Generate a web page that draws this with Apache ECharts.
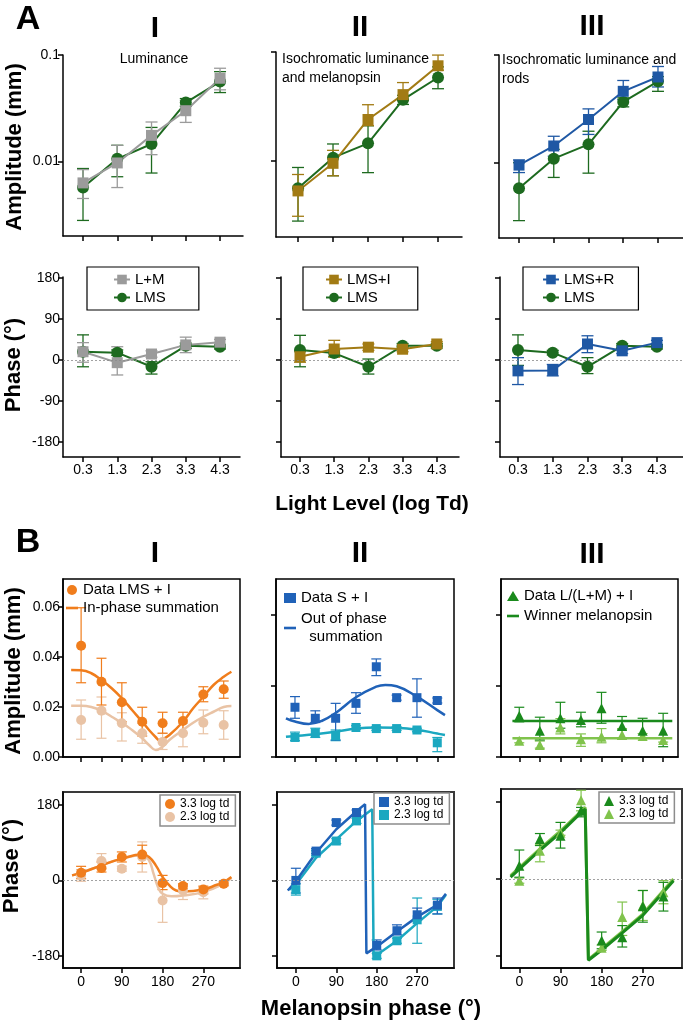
<!DOCTYPE html>
<html><head><meta charset="utf-8">
<script src="https://cdn.jsdelivr.net/npm/echarts@6/dist/echarts.min.js"></script>
<style>html,body{margin:0;padding:0;background:#fff}#c{width:683px;height:1025px}</style>
</head><body><div id="c"></div>
<script>
const FONT = '"Liberation Sans", Arial, Helvetica, sans-serif';

// ---------- Panel A ----------
const lightLevels = [0.3, 1.3, 2.3, 3.3, 4.3];
const ampTicksA = [0.01, 0.1];
const phaseTicksA = [-180, -90, 0, 90, 180];

const ampLM     = [0.0063, 0.0097, 0.0176, 0.030, 0.0605];
const ampLM_lo  = [0.0045, 0.0057, 0.0116, 0.0233, 0.0471];
const ampLM_hi  = [0.0084, 0.0142, 0.0235, 0.0374, 0.0751];
const ampLMS1   = [0.0057, 0.0106, 0.0146, 0.0358, 0.0563];
const ampLMS1_lo= [0.0028, 0.0072, 0.0078, 0.033, 0.0444];
const ampLMS1_hi= [0.0086, 0.0142, 0.0209, 0.039, 0.0698];

const ampLMSI   = [0.0053, 0.0095, 0.024, 0.0406, 0.0747];
const ampLMSI_lo= [0.0031, 0.0073, 0.0211, 0.0359, 0.0681];
const ampLMSI_hi= [0.0075, 0.0125, 0.0328, 0.0524, 0.0937];
const ampLMS2   = [0.0056, 0.0107, 0.0145, 0.0365, 0.0583];
const ampLMS2_lo= [0.0028, 0.0073, 0.0078, 0.033, 0.046];
const ampLMS2_hi= [0.0087, 0.0143, 0.021, 0.040, 0.073];

const ampLMSR   = [0.0095, 0.0143, 0.0252, 0.046, 0.0625];
const ampLMSR_lo= [0.0081, 0.0115, 0.0183, 0.0385, 0.0505];
const ampLMSR_hi= [0.0106, 0.0176, 0.0316, 0.058, 0.0782];
const ampLMS3   = [0.0058, 0.0109, 0.0148, 0.0367, 0.057];
const ampLMS3_lo= [0.0029, 0.0073, 0.008, 0.033, 0.046];
const ampLMS3_hi= [0.0100, 0.0133, 0.0196, 0.040, 0.063];

const phLM      = [18, -6, 13, 33, 39];
const phLM_lo   = [-5, -33, 6, 16, 33];
const phLM_hi   = [38, 29, 20, 50, 45];
const phLMS1    = [18, 16, -15, 31, 29];
const phLMS1_lo = [-15, 10, -31, 25, 24];
const phLMS1_hi = [55, 22, -4, 37, 34];

const phLMSI    = [7, 24, 28, 23.5, 35];
const phLMSI_lo = [-5, 6, 21, 18, 30];
const phLMSI_hi = [20, 43, 35, 29, 40];
const phLMS2    = [22, 15, -15, 31, 31];
const phLMS2_lo = [-15, 8, -31, 26, 26];
const phLMS2_hi = [54, 22, 2, 36, 36];

const phLMSR    = [-24, -23, 35, 20, 38];
const phLMSR_lo = [-54, -35, 16, 14, 33];
const phLMSR_hi = [5, -10, 53, 26, 43];
const phLMS3    = [22, 16, -15, 31, 29];
const phLMS3_lo = [-12, 11, -30, 26, 24];
const phLMS3_hi = [55, 21, 5, 36, 34];

// ---------- Panel B ----------
const melPhase = [0, 45, 90, 135, 180, 225, 270, 315];
const melTicksAmp = [0, 45, 90, 135, 180, 225, 270, 315];
const melTicksPhase = [0, 90, 180, 270];
const ampTicksBI = [0, 0.02, 0.04, 0.06];
const ampTicksBII = [0, 0.02, 0.04];
const phaseTicksB = [-180, 0, 180];

const bAmpI33    = [0.0445, 0.0301, 0.0219, 0.0141, 0.0135, 0.0144, 0.025, 0.0271];
const bAmpI33_lo = [0.0297, 0.0208, 0.0141, 0.0084, 0.0095, 0.0095, 0.0221, 0.0235];
const bAmpI33_hi = [0.0597, 0.0395, 0.0297, 0.0199, 0.0179, 0.0179, 0.0281, 0.0304];
const bAmpI23    = [0.0148, 0.0185, 0.0135, 0.0095, 0.006, 0.0095, 0.0137, 0.0128];
const bAmpI23_lo = [0.0071, 0.0075, 0.0064, 0.0055, 0.003, 0.0041, 0.0093, 0.0071];
const bAmpI23_hi = [0.0228, 0.024, 0.0177, 0.0135, 0.0095, 0.0135, 0.0188, 0.0185];
const fitIx   = [-22, 0, 22.5, 45, 67.5, 90, 112.5, 135, 150, 165, 172, 180, 195, 225, 247.5, 270, 292.5, 315, 332];
const fitI33  = [0.0348, 0.0347, 0.0335, 0.0308, 0.0275, 0.0235, 0.0188, 0.0141, 0.0108, 0.0079, 0.0068, 0.0071, 0.0088, 0.0141, 0.0195, 0.0241, 0.0288, 0.0321, 0.0341];
const fitI23x = [-22, 0, 22.5, 45, 67.5, 90, 112.5, 135, 150, 165, 180, 195, 225, 247.5, 270, 292.5, 315, 332];
const fitI23  = [0.0205, 0.0205, 0.020, 0.0185, 0.0161, 0.0137, 0.0108, 0.0075, 0.0048, 0.0028, 0.0041, 0.0068, 0.0108, 0.0137, 0.0161, 0.0181, 0.020, 0.0204];

const bAmpII33    = [0.014, 0.0109, 0.0109, 0.0151, 0.0254, 0.0167, 0.0167, 0.0159];
const bAmpII33_lo = [0.0109, 0.0097, 0.0048, 0.0123, 0.0229, 0.0160, 0.0112, 0.0152];
const bAmpII33_hi = [0.017, 0.013, 0.0151, 0.0181, 0.0276, 0.0174, 0.022, 0.0166];
const bAmpII23    = [0.0055, 0.0068, 0.006, 0.0083, 0.008, 0.008, 0.0076, 0.004];
const bAmpII23_lo = [0.0046, 0.0055, 0.0046, 0.0078, 0.0075, 0.0075, 0.0071, 0.0015];
const bAmpII23_hi = [0.007, 0.0081, 0.0076, 0.0088, 0.0085, 0.0085, 0.0081, 0.0055];
const fitII33x = [-20, 0, 30, 60, 90, 135, 180, 200, 225, 270, 315, 332];
const fitII33  = [0.0109, 0.0100, 0.0093, 0.0102, 0.0124, 0.0168, 0.0198, 0.0203, 0.0199, 0.017, 0.0132, 0.0118];
const fitII23x = [-20, 0, 45, 90, 135, 180, 225, 270, 315, 332];
const fitII23  = [0.0057, 0.0059, 0.0064, 0.0071, 0.0080, 0.0083, 0.0082, 0.0077, 0.0066, 0.0062];

const bAmpIII33    = [0.0116, 0.0074, 0.0109, 0.0104, 0.0137, 0.0087, 0.0074, 0.0074];
const bAmpIII33_lo = [0.0099, 0.0048, 0.0081, 0.0085, 0.0095, 0.0076, 0.0053, 0.0029];
const bAmpIII33_hi = [0.014, 0.0112, 0.0154, 0.0126, 0.0182, 0.0114, 0.0109, 0.0123];
const bAmpIII23    = [0.0046, 0.0034, 0.0083, 0.005, 0.0057, 0.0062, 0.0059, 0.0048];
const bAmpIII23_lo = [0.0040, 0.0025, 0.0065, 0.0030, 0.0040, 0.0050, 0.0052, 0.0042];
const bAmpIII23_hi = [0.0052, 0.0045, 0.0108, 0.0065, 0.0080, 0.0080, 0.0066, 0.0054];
const fitIIIx   = [-15, 335];
const fitIII33  = [0.0101, 0.0101];
const fitIII23  = [0.0053, 0.0053];

const bPhI33    = [18.4, 29.6, 56, 61.6, -6.4, -13.6, -21.6, -8];
const bPhI33_lo = [4, 20, 44, 40, -22, -20, -32, -13];
const bPhI33_hi = [33.6, 44, 68, 84, 12, -8, -13.6, -3];
const bPhI23    = [12, 46.4, 28, 56, -48, -24, -28, -8];
const bPhI23_lo = [-2, 28, 22, 20, -100, -45.6, -44, -12];
const bPhI23_hi = [26, 64, 34, 92, -8, -10, -16, -4];
const fitPhI33x = [-20, 0, 45, 90, 135, 150, 165, 180, 195, 210, 225, 270, 300, 315, 332];
const fitPhI33  = [12, 18, 36, 52, 61.6, 56, 36, 8, -12, -24, -26.4, -21.6, -10.4, -4, 8];
const fitPhI23x = [-20, 0, 45, 90, 135, 150, 160, 170, 180, 200, 225, 270, 315, 332];
const fitPhI23  = [12, 18, 36, 52, 60, 48, 16, -16, -32, -38, -36, -28, -8, 6];

const bPhII33    = [0, 70, 138, 162, -155, -120, -82, -59];
const bPhII33_lo = [-30, 64, 132, 156, -166, -130, -94, -80];
const bPhII33_hi = [29, 76, 144, 168, -142, -106, -66, -42];
const bPhII23    = [-22, 65, 94, 142, -180, -144, -94, -62];
const bPhII23_lo = [-35, 59, 88, 136, -186, -150, -150, -80];
const bPhII23_hi = [-8, 71, 100, 148, -174, -138, -42, -45];
const fitPhII33x = [-18, 0, 45, 90, 135, 154, 157, 180, 225, 270, 315, 334];
const fitPhII33  = [-24, -2, 66, 122, 165, 182, -174, -158, -122, -87, -58, -32];
const fitPhII23x = [-15, 0, 45, 90, 135, 170, 173, 180, 225, 270, 315, 334];
const fitPhII23  = [-22, -10, 54, 98, 142, 170, -178, -178, -144, -102, -62, -34];

const bPhIII33    = [31, 93, 101, 159, -143.6, -136, -64, -41];
const bPhIII33_lo = [4, 78, 72, 145, -163, -159, -101, -75];
const bPhIII33_hi = [67.5, 106, 132, 167, -124, -109, -27, -8];
const bPhIII23    = [-4, 66, 108, 184, -160.6, -89, -62, -31];
const bPhIII23_lo = [-10, 40, 102, 159, -167, -132, -97, -58];
const bPhIII23_hi = [2, 81, 114, 207, -154, -54, -27, -4];
const fitPhIIIx   = [-19, 45, 90, 135, 144, 151, 180, 225, 270, 337];
const fitPhIII33  = [4, 67, 108, 155, 163, -190, -166, -126, -85, -4];
const fitPhIII23  = [8, 70, 112, 158, 167, -188, -163, -123, -82, 0];

// ---------- colours ----------
const C = {
  gray: '#9b9b9b', green: '#1d6a1f', gold: '#a27b14', blueR: '#1f58a4',
  orange: '#f07d1c', tan: '#e9c3a5', blueS: '#2062b8', cyan: '#1ba8c0',
  g33: '#1a8a1c', g23: '#80c34c'
};

// ---------- layout ----------
const gridDefs = [
  {left:63,  top:55,  width:180, height:181},
  {left:276, top:52,  width:186, height:185},
  {left:499, top:55,  width:184, height:183},
  {left:63,  top:277, width:177, height:180},
  {left:281, top:277, width:178, height:180},
  {left:500, top:277, width:183, height:180},
  {left:63,  top:579, width:177, height:178, box:'#000', bw:1.5},
  {left:276, top:579, width:178, height:178, box:'#000', bw:1.5},
  {left:501, top:579, width:177, height:178, box:'#000', bw:1.5},
  {left:63,  top:792, width:177, height:176, box:'#3a3a3a', bw:2},
  {left:277, top:792, width:177, height:176, box:'#3a3a3a', bw:2},
  {left:501, top:789, width:181, height:179, box:'#3a3a3a', bw:2}
];
const grids = gridDefs.map(g => ({
  left:g.left, top:g.top, width:g.width, height:g.height,
  containLabel:false, outerBoundsMode:'none',
  show: !!g.box, borderColor: g.box || 'transparent', borderWidth: g.bw || 0,
  backgroundColor: 'transparent'
}));

function axisBase(gi, type, min, max, ticks, labels, fmt, margin) {
  const a = {
    type, gridIndex: gi, min, max,
    axisLine: {show:true, onZero:false, lineStyle:{color:'#000', width:1.5}},
    axisTick: {show:true, length:5, customValues: ticks, lineStyle:{color:'#000', width:1.5}},
    axisLabel: {show: !!labels, customValues: labels || ticks, color:'#000', fontSize:14,
                fontFamily: FONT, margin: margin, formatter: fmt || (v => String(v))},
    splitLine: {show:false}, minorTick:{show:false}, minorSplitLine:{show:false}
  };
  if (type === 'log') a.logBase = 10;
  return a;
}
const fmtLog = v => (Math.abs(v - 0.1) < 1e-6 ? '0.1' : '0.01');
const fmt2 = v => Number(v).toFixed(2);

const xAxes = [
  axisBase(0, 'value', -0.284, 4.97, lightLevels, null),
  axisBase(1, 'value', -0.329, 4.985, lightLevels, null),
  axisBase(2, 'value', -0.276, 5.02, lightLevels, null),
  axisBase(3, 'value', -0.284, 4.884, lightLevels, lightLevels, null, 6),
  axisBase(4, 'value', -0.256, 4.95, lightLevels, lightLevels, null, 6),
  axisBase(5, 'value', -0.218, 5.05, lightLevels, lightLevels, null, 6),
  axisBase(6, 'value', -40, 351, melTicksAmp, null),
  axisBase(7, 'value', -42, 352, melTicksAmp, null),
  axisBase(8, 'value', -40, 347.5, melTicksAmp, null),
  axisBase(9, 'value', -40, 351, melTicksPhase, melTicksPhase, null, 7),
  axisBase(10,'value', -42, 352, melTicksPhase, melTicksPhase, null, 7),
  axisBase(11,'value', -40, 355.6, melTicksPhase, melTicksPhase, null, 7)
];
const yAxes = [
  axisBase(0, 'log', 0.002, 0.1, ampTicksA, ampTicksA, fmtLog, 3),
  axisBase(1, 'log', 0.002, 0.1, ampTicksA, null),
  axisBase(2, 'log', 0.002, 0.1, ampTicksA, null),
  axisBase(3, 'value', -213, 182, phaseTicksA, phaseTicksA, null, 3),
  axisBase(4, 'value', -213, 182, phaseTicksA, null),
  axisBase(5, 'value', -213, 182, phaseTicksA, null),
  axisBase(6, 'value', 0, 0.0712, ampTicksBI, ampTicksBI, fmt2, 3),
  axisBase(7, 'value', 0, 0.0501, ampTicksBII, null),
  axisBase(8, 'value', 0, 0.0501, ampTicksBII, null),
  axisBase(9, 'value', -209, 211, phaseTicksB, phaseTicksB, null, 3),
  axisBase(10,'value', -209, 211, phaseTicksB, null),
  axisBase(11,'value', -208, 210, phaseTicksB, null)
];

// ---------- series helpers ----------
function pairs(xs, ys) { return xs.map((x, i) => [x, ys[i]]); }
function errSer(gi, xs, lo, hi, color, cap, lw) {
  return {
    type:'custom', xAxisIndex:gi, yAxisIndex:gi, silent:true, clip:false, z:2,
    data: xs.map((x, i) => [x, lo[i], hi[i]]),
    encode: {x:0, y:[1, 2]},
    renderItem: (params, api) => {
      const x = api.value(0);
      const p1 = api.coord([x, api.value(1)]);
      const p2 = api.coord([x, api.value(2)]);
      const st = {stroke: color, lineWidth: lw, fill: null};
      return {type:'group', children:[
        {type:'line', shape:{x1:p1[0], y1:p1[1], x2:p2[0], y2:p2[1]}, style:st},
        {type:'line', shape:{x1:p1[0]-cap, y1:p1[1], x2:p1[0]+cap, y2:p1[1]}, style:st},
        {type:'line', shape:{x1:p2[0]-cap, y1:p2[1], x2:p2[0]+cap, y2:p2[1]}, style:st}
      ]};
    }
  };
}
function lineSer(gi, name, xs, ys, color, symbol, size) {
  return {
    type:'line', name, xAxisIndex:gi, yAxisIndex:gi, data: pairs(xs, ys),
    symbol, symbolSize:size, showSymbol:true, z:3,
    lineStyle:{color, width:2}, itemStyle:{color, borderWidth:0}, emphasis:{disabled:true}
  };
}
function scatSer(gi, name, xs, ys, color, symbol, size) {
  return {
    type:'scatter', name, xAxisIndex:gi, yAxisIndex:gi, data: pairs(xs, ys),
    symbol, symbolSize:size, z:4, itemStyle:{color, opacity:1}, emphasis:{disabled:true}
  };
}
function fitSer(gi, name, xs, ys, color, smooth, width) {
  return {
    type:'line', name, xAxisIndex:gi, yAxisIndex:gi, data: pairs(xs, ys),
    symbol:'none', showSymbol:false, smooth: smooth ? 0.45 : false,
    z:3, lineStyle:{color, width: width || 2.5}, itemStyle:{color}, emphasis:{disabled:true}
  };
}
function zeroLine(gi) {
  return {
    type:'line', xAxisIndex:gi, yAxisIndex:gi, data:[], silent:true, z:1,
    markLine:{silent:true, symbol:'none', label:{show:false},
      lineStyle:{color:'#8a8a8a', width:0.8, type:[2, 2]}, data:[{yAxis:0}]}
  };
}

const L = lightLevels, M = melPhase;
const series = [
  // A-I amplitude
  errSer(0, L, ampLMS1_lo, ampLMS1_hi, C.green, 6, 1.3),
  errSer(0, L, ampLM_lo, ampLM_hi, C.gray, 6, 1.3),
  lineSer(0, 'LMS amp1', L, ampLMS1, C.green, 'circle', 12),
  lineSer(0, 'L+M amp', L, ampLM, C.gray, 'rect', 11),
  // A-II amplitude
  errSer(1, L, ampLMS2_lo, ampLMS2_hi, C.green, 6, 1.3),
  errSer(1, L, ampLMSI_lo, ampLMSI_hi, C.gold, 6, 1.3),
  lineSer(1, 'LMS amp2', L, ampLMS2, C.green, 'circle', 12),
  lineSer(1, 'LMS+I amp', L, ampLMSI, C.gold, 'rect', 11),
  // A-III amplitude
  errSer(2, L, ampLMS3_lo, ampLMS3_hi, C.green, 6, 1.3),
  errSer(2, L, ampLMSR_lo, ampLMSR_hi, C.blueR, 6, 1.3),
  lineSer(2, 'LMS amp3', L, ampLMS3, C.green, 'circle', 12),
  lineSer(2, 'LMS+R amp', L, ampLMSR, C.blueR, 'rect', 11),
  // A phases
  zeroLine(3), zeroLine(4), zeroLine(5),
  errSer(3, L, phLMS1_lo, phLMS1_hi, C.green, 6, 1.3),
  errSer(3, L, phLM_lo, phLM_hi, C.gray, 6, 1.3),
  lineSer(3, 'LMS#1', L, phLMS1, C.green, 'circle', 12),
  lineSer(3, 'L+M', L, phLM, C.gray, 'rect', 11),
  errSer(4, L, phLMS2_lo, phLMS2_hi, C.green, 6, 1.3),
  errSer(4, L, phLMSI_lo, phLMSI_hi, C.gold, 6, 1.3),
  lineSer(4, 'LMS#2', L, phLMS2, C.green, 'circle', 12),
  lineSer(4, 'LMS+I', L, phLMSI, C.gold, 'rect', 11),
  errSer(5, L, phLMS3_lo, phLMS3_hi, C.green, 6, 1.3),
  errSer(5, L, phLMSR_lo, phLMSR_hi, C.blueR, 6, 1.3),
  lineSer(5, 'LMS#3', L, phLMS3, C.green, 'circle', 12),
  lineSer(5, 'LMS+R', L, phLMSR, C.blueR, 'rect', 11),

  // B-I amplitude
  errSer(6, M, bAmpI23_lo, bAmpI23_hi, C.tan, 5, 1.2),
  fitSer(6, 'fit I 2.3', fitI23x, fitI23, C.tan, true),
  scatSer(6, 'Data LMS + I 2.3', M, bAmpI23, C.tan, 'circle', 10),
  errSer(6, M, bAmpI33_lo, bAmpI33_hi, C.orange, 5, 1.2),
  fitSer(6, 'In-phase summation', fitIx, fitI33, C.orange, true),
  scatSer(6, 'Data LMS + I', M, bAmpI33, C.orange, 'circle', 10),
  // B-II amplitude
  errSer(7, M, bAmpII23_lo, bAmpII23_hi, C.cyan, 5, 1.2),
  fitSer(7, 'fit II 2.3', fitII23x, fitII23, C.cyan, true),
  scatSer(7, 'Data S + I 2.3', M, bAmpII23, C.cyan, 'rect', 9),
  errSer(7, M, bAmpII33_lo, bAmpII33_hi, C.blueS, 5, 1.2),
  fitSer(7, 'Out of phase\n  summation', fitII33x, fitII33, C.blueS, true),
  scatSer(7, 'Data S + I', M, bAmpII33, C.blueS, 'rect', 9),
  // B-III amplitude
  errSer(8, M, bAmpIII23_lo, bAmpIII23_hi, C.g23, 5, 1.2),
  fitSer(8, 'fit III 2.3', fitIIIx, fitIII23, C.g23, false),
  scatSer(8, 'Data L/(L+M) + I 2.3', M, bAmpIII23, C.g23, 'triangle', 10),
  errSer(8, M, bAmpIII33_lo, bAmpIII33_hi, C.g33, 5, 1.2),
  fitSer(8, 'Winner melanopsin', fitIIIx, fitIII33, C.g33, false),
  scatSer(8, 'Data L/(L+M) + I', M, bAmpIII33, C.g33, 'triangle', 10),

  // B phases
  zeroLine(9), zeroLine(10), zeroLine(11),
  errSer(9, M, bPhI23_lo, bPhI23_hi, C.tan, 5, 1.2),
  fitSer(9, 'phfit I 2.3', fitPhI23x, fitPhI23, C.tan, true),
  scatSer(9, '2.3 log td#I', M, bPhI23, C.tan, 'circle', 10),
  errSer(9, M, bPhI33_lo, bPhI33_hi, C.orange, 5, 1.2),
  fitSer(9, 'phfit I 3.3', fitPhI33x, fitPhI33, C.orange, true),
  scatSer(9, '3.3 log td#I', M, bPhI33, C.orange, 'circle', 10),

  errSer(10, M, bPhII23_lo, bPhII23_hi, C.cyan, 5, 1.2),
  fitSer(10, 'phfit II 2.3', fitPhII23x, fitPhII23, C.cyan, false),
  scatSer(10, '2.3 log td#II', M, bPhII23, C.cyan, 'rect', 9),
  errSer(10, M, bPhII33_lo, bPhII33_hi, C.blueS, 5, 1.2),
  fitSer(10, 'phfit II 3.3', fitPhII33x, fitPhII33, C.blueS, false),
  scatSer(10, '3.3 log td#II', M, bPhII33, C.blueS, 'rect', 9),

  errSer(11, M, bPhIII23_lo, bPhIII23_hi, C.g23, 5, 1.2),
  fitSer(11, 'phfit III 2.3', fitPhIIIx, fitPhIII23, C.g23, false, 3),
  scatSer(11, '2.3 log td#III', M, bPhIII23, C.g23, 'triangle', 10),
  errSer(11, M, bPhIII33_lo, bPhIII33_hi, C.g33, 5, 1.2),
  fitSer(11, 'phfit III 3.3', fitPhIIIx, fitPhIII33, C.g33, false, 3),
  scatSer(11, '3.3 log td#III', M, bPhIII33, C.g33, 'triangle', 10)
];

// ---------- legends ----------
const strip = n => n.split('#')[0];
const LINE_ICON = 'path://M0,0H12V2.6H0Z';
function legA(left, names, padding) {
  return {
    left, top:267, orient:'vertical', data:names, formatter:strip, selectedMode:false,
    itemWidth:16, itemHeight:12, itemGap:3, padding,
    borderColor:'#000', borderWidth:1.2, backgroundColor:'#fff',
    textStyle:{fontSize:15, color:'#000', fontFamily:FONT}
  };
}
function legBamp(left, top, names, gap) {
  return {
    left, top, orient:'vertical', data:names, selectedMode:false,
    itemWidth:12, itemHeight:10, itemGap:gap, padding:0,
    textStyle:{fontSize:15, color:'#000', fontFamily:FONT, lineHeight:18}
  };
}
function legBph(left, top, names) {
  return {
    left, top, orient:'vertical', data:names, formatter:strip, selectedMode:false,
    itemWidth:10, itemHeight:10, itemGap:1, padding:[3, 6, 3, 5],
    borderColor:'#8c8c8c', borderWidth:1.5, backgroundColor:'#fff',
    textStyle:{fontSize:12, color:'#000', fontFamily:FONT}
  };
}
const legends = [
  legA(87, ['L+M', 'LMS#1'], [5, 33, 5, 26]),
  legA(303, ['LMS+I', 'LMS#2'], [5, 27, 5, 22]),
  legA(523, ['LMS+R', 'LMS#3'], [5, 24, 5, 19]),
  legBamp(66, 581, [{name:'Data LMS + I', icon:'circle'}, {name:'In-phase summation', icon:LINE_ICON}], 0),
  legBamp(284, 589, [{name:'Data S + I', icon:'rect'}, {name:'Out of phase\n  summation', icon:LINE_ICON}], 3),
  legBamp(507, 587, [{name:'Data L/(L+M) + I', icon:'triangle'}, {name:'Winner melanopsin', icon:LINE_ICON}], 2),
  legBph(160, 795, ['3.3 log td#I', '2.3 log td#I']),
  legBph(374, 793, ['3.3 log td#II', '2.3 log td#II']),
  legBph(599, 792, ['3.3 log td#III', '2.3 log td#III'])
];

// ---------- texts ----------
function txt(text, x, y, size, bold, opts) {
  opts = opts || {};
  return {
    type:'text', x, y, rotation: opts.rot || 0, silent:true, z:10,
    style:{text, fill:'#000', font:(bold ? 'bold ' : '') + size + 'px ' + FONT,
      textAlign: opts.align || 'center', textVerticalAlign: opts.valign || 'middle',
      lineHeight: opts.lh}
  };
}
const texts = [
  txt('A', 28, 20, 34, true),
  txt('I', 155, 29, 30, true), txt('II', 360, 28, 30, true), txt('III', 592, 27, 30, true),
  txt('Luminance', 154, 59, 14, false),
  txt('Isochromatic luminance\nand melanopsin', 282, 50, 14, false, {align:'left', valign:'top', lh:19}),
  txt('Isochromatic luminance and\nrods', 502, 51, 14, false, {align:'left', valign:'top', lh:19}),
  txt('Amplitude (mm)', 15, 147, 22, true, {rot: Math.PI / 2}),
  txt('Phase (°)', 14, 365, 22, true, {rot: Math.PI / 2}),
  txt('Light Level (log Td)', 372, 504, 21, true),
  txt('B', 28, 543, 34, true),
  txt('I', 155, 554, 30, true), txt('II', 360, 554, 30, true), txt('III', 592, 555, 30, true),
  txt('Amplitude (mm)', 14, 671, 22, true, {rot: Math.PI / 2}),
  txt('Phase (°)', 12, 866, 22, true, {rot: Math.PI / 2}),
  txt('Melanopsin phase (°)', 371, 1009, 22, true)
];

const chart = echarts.init(document.getElementById('c'), null, {renderer:'canvas'});
chart.setOption({
  animation:false, backgroundColor:'#fff', textStyle:{fontFamily:FONT},
  grid:grids, xAxis:xAxes, yAxis:yAxes, legend:legends, series, graphic:texts,
  tooltip:{show:false}
});
</script></body></html>
